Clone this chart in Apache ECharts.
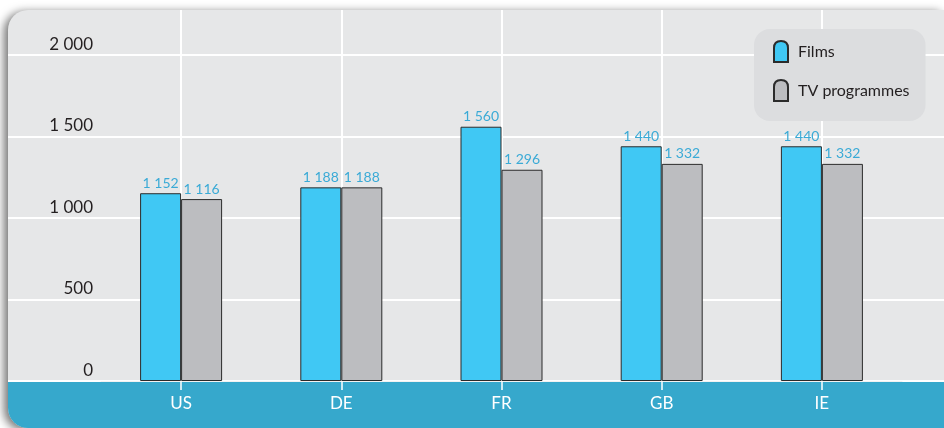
<!DOCTYPE html>
<html>
<head>
<meta charset="utf-8">
<script src="https://cdn.jsdelivr.net/npm/echarts@6/dist/echarts.min.js"></script>
<style>
html,body{margin:0;padding:0;background:#fff;}
#chart{width:944px;height:428px;}
</style>
</head>
<body>
<div id="chart"></div>
<script>
const categories = ['US', 'DE', 'FR', 'GB', 'IE'];
const films = [1152, 1188, 1560, 1440, 1440];
const tvProgrammes = [1116, 1188, 1296, 1332, 1332];
const seriesNames = ['Films', 'TV programmes'];
const yTicks = [0, 500, 1000, 1500, 2000];

const FONT = 'Lato';
function fmt(v) {
  return String(v).replace(/\B(?=(\d{3})+(?!\d))/g, ' ');
}
const iconPath = 'path://M0,21 L0,7 Q0,0 7,0 Q14,0 14,7 L14,21 Z';

const chart = echarts.init(document.getElementById('chart'), null, {renderer: 'canvas'});
chart.setOption({
  animation: false,
  backgroundColor: '#ffffff',
  textStyle: {fontFamily: FONT},
  graphic: [
    {
      type: 'rect', z: -20,
      shape: {x: 8, y: 10, width: 936, height: 418, r: [20, 0, 0, 20]},
      style: {fill: '#e6e7e8', shadowBlur: 10, shadowOffsetX: -4, shadowOffsetY: 2, shadowColor: 'rgba(0,0,0,0.55)'}
    },
    {
      type: 'rect', z: -15,
      shape: {x: 8, y: 381, width: 936, height: 47, r: [0, 0, 0, 20]},
      style: {fill: '#36a8cc'}
    }
  ],
  legend: {
    orient: 'vertical',
    left: 754, top: 29,
    padding: [11, 16, 19, 19],
    backgroundColor: '#dcdddf',
    borderRadius: 16,
    itemWidth: 14, itemHeight: 21, itemGap: 16,
    textStyle: {fontFamily: FONT, fontSize: 16, color: '#231f20', padding: [0, 0, 0, 5]},
    data: [
      {name: seriesNames[0], icon: iconPath},
      {name: seriesNames[1], icon: iconPath}
    ]
  },
  grid: [
    {left: 8, right: 0, top: 55, bottom: 47},
    {left: 101, right: 42, top: 10, bottom: 47},
    {left: 101, right: 42, top: 55, bottom: 47}
  ],
  xAxis: [
    {gridIndex: 0, type: 'category', data: [''], show: false},
    {
      gridIndex: 1, type: 'category', data: categories,
      axisLine: {show: false}, axisTick: {show: false}, axisLabel: {show: false},
      splitLine: {show: true, alignWithLabel: true, lineStyle: {color: '#ffffff', width: 2}}
    },
    {
      gridIndex: 2, type: 'category', data: categories,
      axisLine: {show: true, lineStyle: {color: '#f2f2f2', width: 1}},
      axisTick: {show: true, alignWithLabel: true, length: 9, lineStyle: {color: '#ffffff', width: 1.5}},
      axisLabel: {color: '#ffffff', fontSize: 17, fontFamily: FONT, margin: 14},
      splitLine: {show: false}
    }
  ],
  yAxis: [
    {
      gridIndex: 0, type: 'value', min: 0, max: 2000, interval: 500,
      axisLine: {show: false}, axisTick: {show: false}, axisLabel: {show: false},
      splitLine: {show: true, lineStyle: {color: '#ffffff', width: 2}}
    },
    {gridIndex: 1, type: 'value', min: 0, max: 1, show: false, splitLine: {show: false}},
    {
      gridIndex: 2, type: 'value', min: 0, max: 2000, interval: 500,
      axisLine: {show: false}, axisTick: {show: false},
      splitLine: {show: false},
      axisLabel: {
        color: '#231f20', fontSize: 17, fontFamily: FONT, margin: 8,
        verticalAlign: 'bottom', padding: [0, 0, 2, 0],
        formatter: function (v) { return yTicks.indexOf(v) >= 0 ? fmt(v) : ''; }
      }
    }
  ],
  series: [
    {
      name: seriesNames[0], type: 'bar', xAxisIndex: 2, yAxisIndex: 2,
      data: films, barWidth: 41, barGap: '0%',
      itemStyle: {color: '#40c8f4', borderColor: '#2b2b2b', borderWidth: 1},
      label: {show: true, position: 'top', distance: 3, color: '#3aaad6', fontSize: 14, fontFamily: FONT,
        formatter: function (p) { return fmt(p.value); }}
    },
    {
      name: seriesNames[1], type: 'bar', xAxisIndex: 2, yAxisIndex: 2,
      data: tvProgrammes, barWidth: 41, barGap: '0%',
      itemStyle: {color: '#bcbdc0', borderColor: '#2b2b2b', borderWidth: 1},
      label: {show: true, position: 'top', distance: 3, color: '#3aaad6', fontSize: 14, fontFamily: FONT,
        formatter: function (p) { return fmt(p.value); }}
    }
  ]
});
</script>
</body>
</html>
